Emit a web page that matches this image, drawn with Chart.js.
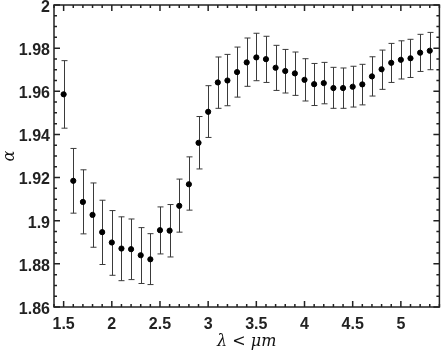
<!DOCTYPE html>
<html>
<head>
<meta charset="utf-8">
<script src="https://cdn.jsdelivr.net/npm/chart.js@4.4.0/dist/chart.umd.min.js"></script>
<style>
  html, body { margin: 0; padding: 0; background: #fff; }
  #wrap { width: 443px; height: 352px; }
</style>
</head>
<body>
<div id="wrap"><canvas id="alphaChart"></canvas></div>
<script>
// wavelength (um) and alpha, with upper/lower error bar ends
const lambdaVals = [1.5, 1.6, 1.7, 1.8, 1.9, 2.0, 2.1, 2.2, 2.3, 2.4, 2.5, 2.6, 2.7, 2.8, 2.9,
  3.0, 3.1, 3.2, 3.3, 3.4, 3.5, 3.6, 3.7, 3.8, 3.9, 4.0, 4.1, 4.2, 4.3, 4.4, 4.5, 4.6, 4.7,
  4.8, 4.9, 5.0, 5.1, 5.2, 5.3];
const alphaVals = [1.9586, 1.9185, 1.9087, 1.9027, 1.8947, 1.8899, 1.8871, 1.8868, 1.8840, 1.8821,
  1.8956, 1.8954, 1.9069, 1.9169, 1.9361, 1.9505, 1.9641, 1.9650, 1.9689, 1.9734, 1.9757,
  1.9749, 1.9709, 1.9694, 1.9683, 1.9653, 1.9633, 1.9638, 1.9615, 1.9615, 1.9621, 1.9632,
  1.9669, 1.9702, 1.9732, 1.9746, 1.9753, 1.9779, 1.9788];
const alphaHigh = [1.9742, 1.9335, 1.9236, 1.9175, 1.9095, 1.9047, 1.9018, 1.9008, 1.8968, 1.8940,
  1.9064, 1.9075, 1.9193, 1.9296, 1.9483, 1.9626, 1.9759, 1.9771, 1.9805, 1.9847, 1.9869,
  1.9855, 1.9813, 1.9794, 1.9782, 1.9751, 1.9729, 1.9734, 1.9711, 1.9708, 1.9716, 1.9725,
  1.9760, 1.9791, 1.9822, 1.9834, 1.9841, 1.9864, 1.9873];
const alphaLow = [1.9429, 1.9035, 1.8939, 1.8877, 1.8797, 1.8747, 1.8722, 1.8727, 1.8709, 1.8704,
  1.8846, 1.8832, 1.8947, 1.9049, 1.9240, 1.9386, 1.9521, 1.9533, 1.9573, 1.9623, 1.9649,
  1.9641, 1.9604, 1.9592, 1.9581, 1.9555, 1.9534, 1.9542, 1.9521, 1.9521, 1.9527, 1.9537,
  1.9578, 1.9609, 1.9641, 1.9657, 1.9664, 1.9692, 1.9700];

const points = lambdaVals.map((x, i) => ({ x: x, y: alphaVals[i] }));

const isMajorX = v => Math.abs(v * 2 - Math.round(v * 2)) < 1e-6;
const isMajorY = v => Math.abs(v * 50 - Math.round(v * 50)) < 1e-6;

// error bars under the dots
const errorBars = {
  id: 'errorBars',
  beforeDatasetsDraw(chart) {
    const ctx = chart.ctx, xs = chart.scales.x, ys = chart.scales.y;
    ctx.save();
    ctx.strokeStyle = '#3a3a3a';
    ctx.lineWidth = 1;
    lambdaVals.forEach((x, i) => {
      const px = Math.round(xs.getPixelForValue(x)) + 0.5;
      const top = ys.getPixelForValue(alphaHigh[i]);
      const bot = ys.getPixelForValue(alphaLow[i]);
      ctx.beginPath();
      ctx.moveTo(px, top); ctx.lineTo(px, bot);
      ctx.moveTo(px - 3, top); ctx.lineTo(px + 3, top);
      ctx.moveTo(px - 3, bot); ctx.lineTo(px + 3, bot);
      ctx.stroke();
    });
    ctx.restore();
  }
};

// box frame with inward ticks on every side
const frameTicks = {
  id: 'frameTicks',
  afterDraw(chart) {
    const ctx = chart.ctx, a = chart.chartArea;
    const xs = chart.scales.x, ys = chart.scales.y;
    ctx.save();
    ctx.strokeStyle = '#222';
    ctx.lineWidth = 1.5;
    ctx.beginPath();
    xs.ticks.forEach(t => {
      const px = xs.getPixelForValue(t.value);
      const len = isMajorX(t.value) ? 6 : 3;
      ctx.moveTo(px, a.bottom); ctx.lineTo(px, a.bottom - len);
      ctx.moveTo(px, a.top); ctx.lineTo(px, a.top + len);
    });
    ys.ticks.forEach(t => {
      const py = ys.getPixelForValue(t.value);
      const len = isMajorY(t.value) ? 6 : 3;
      ctx.moveTo(a.left, py); ctx.lineTo(a.left + len, py);
      ctx.moveTo(a.right, py); ctx.lineTo(a.right - len, py);
    });
    ctx.stroke();
    ctx.strokeRect(a.left, a.top, a.right - a.left, a.bottom - a.top);
    ctx.restore();
  }
};

const ctx = document.getElementById('alphaChart').getContext('2d');
const alphaChart = new Chart(ctx, {
  type: 'scatter',
  data: {
    datasets: [{
      data: points,
      backgroundColor: '#000',
      borderColor: '#000',
      pointRadius: 2.6,
      pointHoverRadius: 2.6
    }]
  },
  options: {
    responsive: true,
    maintainAspectRatio: false,
    animation: false,
    layout: { padding: { top: 5, right: 1, left: 0, bottom: 0 } },
    plugins: { legend: { display: false }, tooltip: { enabled: false } },
    scales: {
      x: {
        type: 'linear',
        min: 1.4,
        max: 5.4,
        grid: { display: false, drawTicks: false },
        border: { display: false },
        afterFit: s => { s.height = 45; s.paddingLeft = 0; s.paddingRight = 0; },
        ticks: {
          stepSize: 0.1,
          autoSkip: false,
          maxRotation: 0,
          padding: 8,
          color: '#222',
          font: { family: 'Liberation Sans', size: 16, weight: 'bold' },
          callback: v => isMajorX(v) ? String(Number(v.toFixed(1))) : ''
        },
        title: {
          display: true,
          text: 'λ < μm',
          color: '#111',
          padding: { top: 0, bottom: 1 },
          font: { family: 'DejaVu Serif', size: 16, style: 'italic' }
        }
      },
      y: {
        min: 1.86,
        max: 2,
        grid: { display: false, drawTicks: false },
        border: { display: false },
        afterFit: s => { s.width = 54; s.paddingTop = 0; s.paddingBottom = 0; },
        ticks: {
          stepSize: 0.005,
          autoSkip: false,
          padding: 4,
          labelOffset: 2.5,
          color: '#222',
          font: { family: 'Liberation Sans', size: 16, weight: 'bold' },
          callback: v => isMajorY(v) ? String(Number(v.toFixed(2))) : ''
        },
        title: {
          display: true,
          text: 'α',
          color: '#111',
          padding: { top: 0, bottom: 0 },
          font: { family: 'DejaVu Serif', size: 16, style: 'italic' }
        }
      }
    }
  },
  plugins: [errorBars, frameTicks]
});
</script>
</body>
</html>
